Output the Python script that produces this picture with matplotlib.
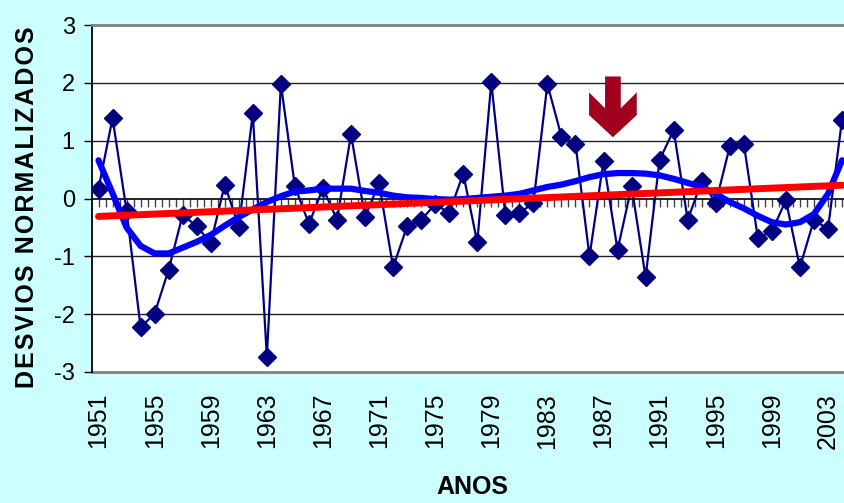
import matplotlib
matplotlib.use("Agg")
import matplotlib.pyplot as plt
import numpy as np
from matplotlib.patches import Polygon

years = list(range(1951, 2005))
desvios = [0.17, 1.39, -0.21, -2.23, -1.99, -1.23, -0.28, -0.48, -0.77, 0.24,
           -0.49, 1.47, -2.74, 1.98, 0.21, -0.44, 0.18, -0.37, 1.11, -0.32,
           0.27, -1.19, -0.48, -0.37, -0.10, -0.25, 0.43, -0.76, 2.01, -0.28,
           -0.25, -0.08, 1.98, 1.07, 0.95, -1.00, 0.65, -0.89, 0.21, -1.36,
           0.67, 1.18, -0.37, 0.30, -0.08, 0.90, 0.95, -0.68, -0.57, -0.03,
           -1.19, -0.37, -0.53, 1.36]
suavizada = [0.66, 0.09, -0.50, -0.82, -0.95, -0.95, -0.85, -0.75, -0.63, -0.47,
             -0.32, -0.19, -0.06, 0.04, 0.12, 0.14, 0.17, 0.17, 0.17, 0.13,
             0.10, 0.05, 0.02, 0.01, -0.01, -0.02, -0.01, 0.01, 0.03, 0.05,
             0.08, 0.14, 0.20, 0.24, 0.30, 0.37, 0.42, 0.44, 0.44, 0.43,
             0.40, 0.34, 0.27, 0.20, 0.08, -0.06, -0.17, -0.30, -0.41, -0.45,
             -0.41, -0.27, 0.08, 0.66]
trend_years = [1951, 2004]
trend_values = [-0.31, 0.23]
tick_years = list(range(1951, 2004, 4))
y_ticks = [-3, -2, -1, 0, 1, 2, 3]
arrow_x = 1987.67
arrow_top = 2.11
arrow_tip = 1.06
y_title = 'DESVIOS NORMALIZADOS'
x_title = 'ANOS'

FONT = ['Liberation Sans', 'DejaVu Sans']
plt.rcParams['font.family'] = FONT

W, H = 844, 503
fig = plt.figure(figsize=(W / 100, H / 100), dpi=100, facecolor='#CCFFFF')
left_px, right_px, top_px, bot_px = 91.5, 849.0, 25.0, 372.0
ax = fig.add_axes([left_px / W, (H - bot_px) / H, (right_px - left_px) / W, (bot_px - top_px) / H])
ax.set_facecolor('white')
ax.set_xlim(1950.5, 2004.5)
ax.set_ylim(-3, 3)

# gridlines
for yv in y_ticks[1:-1]:
    if yv != 0:
        ax.axhline(yv, color='#222222', lw=1.0, zorder=1)

# series
ax.plot(years, desvios, color='#000080', lw=1.6, marker='D', markersize=9,
        markerfacecolor='#000080', markeredgecolor='#000080', zorder=3)
ax.plot(years, suavizada, color='#0000FF', lw=4.5, solid_capstyle='round', zorder=4)
ax.plot(trend_years, trend_values, color='#FF0000', lw=5.0, solid_capstyle='round', zorder=5)

# arrow
sh = 0.56   # shaft half width (years)
hw = 1.70   # head half width
h = arrow_top - arrow_tip
wing_top = arrow_top - 0.262 * h
wing_bot = arrow_top - 0.636 * h
junction = arrow_top - 0.524 * h
pts = [(arrow_x - sh, arrow_top), (arrow_x + sh, arrow_top), (arrow_x + sh, junction),
       (arrow_x + hw, wing_top), (arrow_x + hw, wing_bot), (arrow_x, arrow_tip),
       (arrow_x - hw, wing_bot), (arrow_x - hw, wing_top), (arrow_x - sh, junction)]
ax.add_patch(Polygon(pts, closed=True, facecolor='#A0001E', edgecolor='none', zorder=6))

# spines
for s in ['top', 'right']:
    ax.spines[s].set_color('#808080')
    ax.spines[s].set_linewidth(2.0)
ax.spines['left'].set_color('black')
ax.spines['left'].set_linewidth(1.3)
ax.spines['bottom'].set_position(('data', 0))
ax.spines['bottom'].set_color('black')
ax.spines['bottom'].set_linewidth(1.2)
ax.spines['bottom'].set_zorder(2)

# x axis at zero: half-year minor ticks, no labels
ax.set_xticks([])
ax.set_xticks(np.arange(1951, 2004.6, 0.5), minor=True)
ax.tick_params(axis='x', which='minor', direction='out', length=6, width=1.0, color='#404040')
ax.tick_params(axis='x', which='major', length=0, labelbottom=False)

# y axis
ax.set_yticks(y_ticks)
ax.set_yticklabels([str(v) for v in y_ticks])
ax.tick_params(axis='y', direction='out', length=6, width=1.0, pad=6, labelsize=17)

# bottom axis with year labels
sec = ax.secondary_xaxis(0.0)
sec.set_xticks(tick_years)
sec.set_xticklabels([str(v) for v in tick_years], rotation=90, fontsize=18)
sec.tick_params(length=0, pad=15)
sec.spines['bottom'].set_color('#808080')
sec.spines['bottom'].set_linewidth(2.0)

spaced = '\u200a'.join(y_title)
fig.text(27 / W, 1 - 207 / H, spaced, rotation=90, ha='center', va='center',
         fontsize=18, fontweight='bold', family=FONT)
fig.text(472 / W, 1 - 487 / H, x_title, ha='center', va='center', fontsize=18, fontweight='bold',
         family=['Liberation Sans Narrow', 'Liberation Sans', 'DejaVu Sans'])

fig.savefig('out.png', dpi=100, facecolor=fig.get_facecolor())
